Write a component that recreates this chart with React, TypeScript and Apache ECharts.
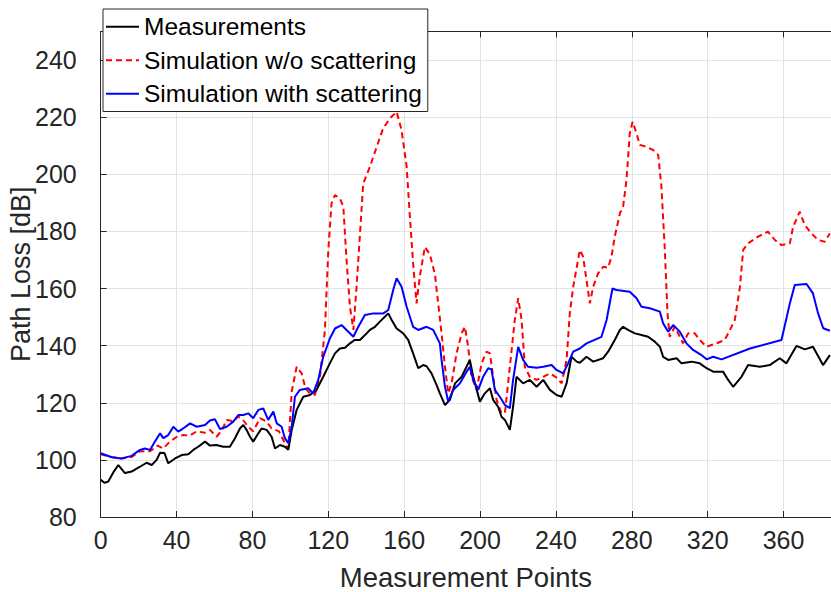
import React, { useEffect, useRef } from "react";
import * as echarts from "echarts";

const seriesNames = ["Measurements", "Simulation w/o scattering", "Simulation with scattering"];

const measurements: [number, number][] = [
  [0, 93], [2, 92], [4, 92.4], [7, 96], [9.3, 98.2], [12.8, 95.4], [16.3, 95.9], [20.7, 97.6], [24.2, 99], [26.9, 98.2],
  [29.5, 100], [31.3, 102.5], [33.6, 102.4], [35.6, 98.8], [39.2, 100.5], [42.7, 101.7], [46.2, 102], [48.8, 103.5], [51.4, 104.6], [55, 106.4],
  [57.6, 105], [61.1, 105.2], [64.6, 104.6], [68.1, 104.6], [70.8, 107.6], [73.4, 111], [75.2, 112.2], [76.9, 110.5], [78.7, 108.1], [80.4, 106.4],
  [83.1, 109.3], [84.8, 111], [87.5, 110.5], [90.1, 108.1], [91.9, 104], [94.5, 105.2], [97.1, 104.6], [98.9, 103.5], [100.7, 110.5], [103.3, 117.5],
  [106.8, 122.1], [110.3, 122.7], [113.8, 124.5], [117.3, 129.1], [120.8, 133.8], [123.5, 137.3], [126.1, 139], [128.8, 139.3], [131.4, 140.8], [134, 142],
  [136.7, 142], [139.3, 143.7], [141.9, 145.5], [144.6, 146.6], [147.2, 148.4], [149.8, 150.1], [151.6, 151.3], [153.4, 149], [156, 146], [159.5, 144.3],
  [162.1, 142], [164.7, 137.3], [167.4, 132.1], [170, 133.2], [171.8, 132.8], [174.4, 130.3], [177.1, 126.2], [178.8, 123.3], [181.5, 119.2], [184.1, 121],
  [186.8, 126.8], [190.3, 129.1], [194.6, 135], [196.4, 129.1], [199.9, 120.4], [202.5, 123.3], [205.2, 125.1], [206.9, 121], [209.5, 118.6], [211.3, 115.1],
  [213.1, 114], [215.7, 110.5], [217.4, 118.6], [219.2, 129.1], [222.7, 126.8], [226.2, 128], [229.8, 125.6], [233.3, 128], [236.8, 124.5], [240.3, 122.7],
  [243, 122.1], [245.6, 126.8], [248.2, 136.1], [250.9, 134.4], [252.6, 134], [256.1, 136.1], [259.6, 134.4], [264.9, 135.6], [267.5, 137.9], [271, 142],
  [273.7, 145.5], [275.4, 146.6], [278, 145.5], [281.6, 144.3], [285.1, 143.7], [288.6, 143.1], [292.1, 141.4], [294.8, 139.6], [296.5, 136.1], [299.2, 135],
  [303.6, 135.6], [306.2, 133.8], [311.5, 134.4], [315.8, 133.8], [319.4, 132.1], [322.9, 130.9], [328.1, 130.9], [330.8, 128], [333.4, 125.6], [337.8, 129.1],
  [341.3, 133.2], [347.5, 132.6], [352.7, 133.2], [358, 135.6], [361.5, 133.8], [366.8, 139.9], [371.2, 138.7], [375.5, 139.6], [380.8, 133.2], [384.4, 136.7],
];

const simNoScatter: [number, number][] = [
  [0, 102], [5.8, 101], [11, 100.5], [16.3, 101], [20.7, 103], [26, 103], [30, 105], [33, 104], [36.5, 106.4], [40, 108],
  [43.5, 108.7], [47, 108.5], [50.6, 110], [55, 109.5], [57.6, 110.5], [61.1, 108.1], [64, 110.5], [66.4, 114], [70, 113.5], [72.5, 115.2],
  [75, 114], [77.8, 111.6], [80.4, 110], [84, 114.6], [87.5, 113.4], [90.1, 111], [94, 110], [97.1, 105.8], [98.9, 104], [100.7, 123.9],
  [103.3, 132.6], [105.9, 130.3], [108, 125], [110.3, 123.3], [112.9, 122.7], [115.6, 129.1], [118.2, 145.5], [120, 173.5], [121.7, 189.8], [123.5, 192.7],
  [126.1, 191.6], [127.9, 188.7], [129.6, 170], [131.4, 153.6], [133.2, 145.5], [134.9, 160.7], [136.7, 179.3], [138.4, 196.8], [141.9, 202.6], [145.5, 209.6],
  [148.9, 216.1], [152.5, 219.6], [156, 221.9], [158.6, 215.5], [161.3, 202.6], [163, 185.1], [164.7, 168.8], [166.5, 154.8], [168.2, 164.1], [170.9, 174.6],
  [173.5, 172], [176.2, 165], [179.7, 144.3], [181.5, 132.6], [183.2, 123.3], [185, 126.8], [187.6, 137.3], [190.3, 144.3], [192, 146.6], [193.7, 139.6],
  [195.5, 129.1], [198.2, 124.5], [200.8, 133.8], [203.4, 137.9], [205.2, 137.3], [206.9, 129.1], [208.7, 121], [211.3, 116.3], [213.1, 116.5], [215.7, 132.6],
  [218.3, 149], [220.1, 156.6], [221.9, 149], [223.6, 132.6], [226.2, 129.1], [229.8, 128], [233.3, 129.1], [236.8, 130.3], [240, 129], [243, 126.8],
  [245.6, 135], [247.3, 151.3], [249.1, 160.6], [252.6, 173.5], [254.3, 171.2], [256.1, 163], [257.9, 154.8], [259.6, 160.6], [262.2, 165.3], [264.9, 167.6],
  [267.5, 167.3], [269.3, 171.2], [271, 178.2], [273.7, 186.3], [275.4, 188.7], [277.2, 198], [278.9, 214.3], [280.4, 218.4], [282.5, 214.3], [284.2, 210.3],
  [287.7, 209.6], [291.2, 208.5], [293.9, 206.8], [295.6, 195.7], [297.4, 173.5], [298.8, 151.3], [300, 143.1], [302.6, 146.6], [305.3, 143.1], [307, 140.8],
  [309.7, 144.3], [313.2, 144.3], [315.8, 142], [319.4, 139.6], [324.6, 140.8], [329, 142], [331.7, 145.5], [334.3, 149], [337, 160.6], [338.7, 173.5],
  [341.3, 175.8], [346.6, 178.2], [351.8, 179.9], [355.4, 177], [358.9, 175.2], [363.3, 175.8], [365, 181.6], [368.5, 186.9], [371.2, 182.2], [374.7, 179.3],
  [378.2, 177], [381.7, 176.4], [384.4, 179.3],
];

const simScatter: [number, number][] = [
  [0, 102.3], [5.8, 100.9], [11, 100.5], [16.3, 101.4], [20.7, 103.5], [23.3, 104], [26, 103.5], [28.6, 106.4], [31.3, 109.3], [33, 107.6],
  [35.6, 108.7], [38.3, 111.6], [40.9, 109.9], [43.5, 111], [47.1, 112.8], [50.6, 111.6], [55, 112.2], [57.6, 113.8], [60.2, 114.2], [62.9, 110.8],
  [66.4, 111.6], [69.9, 113.4], [72.5, 115.7], [75.2, 115.7], [77.8, 116.3], [80.4, 114.6], [83.1, 117.5], [85.7, 118], [88.3, 114], [91, 116.9],
  [92.8, 112.8], [95.4, 111.6], [97.1, 107.6], [98.9, 105.8], [100.7, 111.6], [102.4, 122.1], [105, 124.5], [109.4, 125.1], [112, 123.3], [114.7, 128],
  [117.3, 136.1], [120.8, 142.5], [123.5, 146], [127, 147.2], [129.6, 145.5], [133.2, 143.1], [135.8, 146.6], [139.3, 150.7], [143.7, 151.3], [149, 151.3],
  [151.6, 152.5], [154.2, 159.5], [156, 163.6], [158.6, 160.6], [161.3, 153.6], [164.7, 146.6], [167.4, 145.5], [171.8, 146.6], [175.3, 145.5], [178.8, 140.8],
  [179.7, 135], [181.5, 125.6], [183.2, 120.4], [185.8, 124.5], [189.4, 126.8], [192.9, 130.9], [194.6, 132.6], [196.4, 128], [199, 124.5], [201.6, 129.1],
  [204.3, 132.1], [206, 131.7], [207.8, 124.5], [210.4, 122.1], [213.1, 119.2], [215.7, 118.1], [217.4, 128], [220.1, 139.6], [222.7, 135], [225.3, 132.6],
  [229.8, 132.3], [233.3, 132.6], [237.7, 133.2], [240.3, 131.5], [243.8, 130.3], [246.4, 133.8], [249.1, 137.9], [252.6, 139], [256.1, 140.8], [264, 143.1],
  [266.7, 149], [269.8, 160], [271.9, 159.5], [278.9, 158.9], [282.5, 156.6], [285.1, 153.6], [289.5, 153.1], [294.8, 151.9], [296.5, 147.8], [299.2, 144.9],
  [301.8, 147.2], [305.3, 144.9], [308.8, 140.8], [312.3, 138.5], [316.7, 136.7], [319.4, 135.2], [322.9, 136.1], [327.3, 135.2], [342.3, 139], [358.9, 142],
  [363.3, 154.8], [365.9, 161.2], [372.1, 161.6], [375.5, 158.3], [378.2, 151.3], [380.9, 146.1], [384.4, 145.2],
];

const xTicks = { min: 0, max: 385, interval: 40 };
const yTicks = { min: 80, max: 250, interval: 20 };

const FONT = "'Liberation Sans', Arial, Helvetica, sans-serif";
const AXIS = "#262626";
const GRID = "#e3e3e3";

export default function App() {
  const ref = useRef<HTMLDivElement>(null);
  useEffect(() => {
    if (!ref.current) return;
    const chart = echarts.init(ref.current, undefined, { renderer: "svg" });
    const axisCommon = {
      axisLine: { show: true, lineStyle: { color: AXIS, width: 1 } },
      axisTick: { show: true, inside: true, length: 6, lineStyle: { color: AXIS } },
    };
    chart.setOption({
      animation: false,
      backgroundColor: "#ffffff",
      grid: { left: 100.7, right: 0, top: 31.5, bottom: 75, containLabel: false, outerBoundsMode: "none" },
      legend: {
        data: seriesNames,
        orient: "vertical",
        left: 103,
        top: 9,
        padding: [1, 6, 1, 2],
        itemGap: 0,
        itemWidth: 33,
        itemHeight: 14,
        itemStyle: { opacity: 0 },
        backgroundColor: "#ffffff",
        borderColor: AXIS,
        borderWidth: 1,
        textStyle: { fontFamily: FONT, fontSize: 24.5, color: "#000", lineHeight: 33.5 },
      },
      xAxis: [
        {
          type: "value",
          min: xTicks.min,
          max: xTicks.max,
          interval: xTicks.interval,
          ...axisCommon,
          axisLabel: { fontFamily: FONT, fontSize: 25, color: AXIS, margin: 10, showMaxLabel: false },
          splitLine: { show: true, lineStyle: { color: GRID, width: 1 } },
          name: "Measurement Points",
          nameLocation: "middle",
          nameGap: 46,
          nameTextStyle: { fontFamily: FONT, fontSize: 27.5, color: AXIS },
        },
        {
          type: "value",
          position: "top",
          min: xTicks.min,
          max: xTicks.max,
          interval: xTicks.interval,
          ...axisCommon,
          axisLabel: { show: false },
          splitLine: { show: false },
        },
      ],
      yAxis: {
        type: "value",
        min: yTicks.min,
        max: yTicks.max,
        interval: yTicks.interval,
        ...axisCommon,
        axisLabel: { fontFamily: FONT, fontSize: 25, color: AXIS, margin: 24, showMaxLabel: false },
        splitLine: { show: true, lineStyle: { color: GRID, width: 1 } },
        name: "Path Loss [dB]",
        nameLocation: "middle",
        nameMoveOverlap: false,
        nameGap: 66,
        nameTextStyle: { fontFamily: FONT, fontSize: 27, color: AXIS },
      },
      series: [
        {
          name: seriesNames[0],
          type: "line",
          data: measurements,
          showSymbol: false,
          symbol: "none",
          lineStyle: { color: "#000000", width: 2 },
          itemStyle: { color: "#000000" },
          z: 3,
        },
        {
          name: seriesNames[1],
          type: "line",
          data: simNoScatter,
          showSymbol: false,
          symbol: "none",
          lineStyle: { color: "#ff0000", width: 2, type: [6, 4] },
          itemStyle: { color: "#ff0000" },
          z: 2,
        },
        {
          name: seriesNames[2],
          type: "line",
          data: simScatter,
          showSymbol: false,
          symbol: "none",
          lineStyle: { color: "#0000ff", width: 2 },
          itemStyle: { color: "#0000ff" },
          z: 4,
        },
      ],
    });
    return () => chart.dispose();
  }, []);
  return (
    <div
      ref={ref}
      style={{ position: "fixed", left: 0, top: 0, width: 831, height: 592, background: "#fff" }}
    />
  );
}
